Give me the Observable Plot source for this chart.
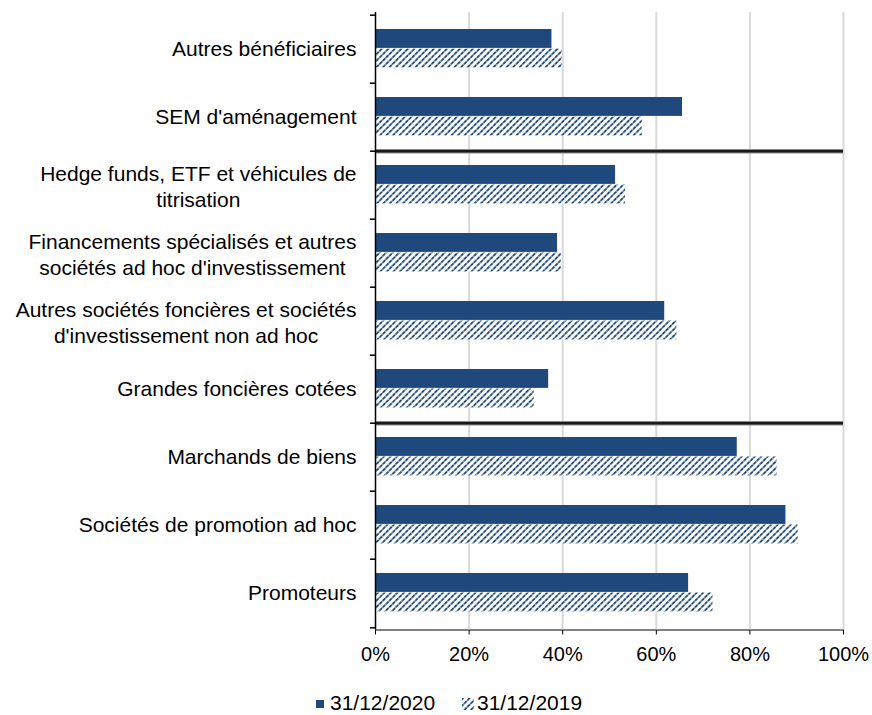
<!DOCTYPE html>
<html>
<head>
<meta charset="utf-8">
<script src="https://cdn.jsdelivr.net/npm/d3@7"></script>
<script src="https://cdn.jsdelivr.net/npm/@observablehq/plot@0.6"></script>
<style>
  html, body { margin: 0; padding: 0; background: #fff; }
  body { width: 872px; height: 715px; position: relative; overflow: hidden; font-family: "Liberation Sans", Arial, sans-serif; }
  #chart svg { display: block; }
  #legend { position: absolute; left: 0; top: 676px; width: 872px; height: 39px; font-size: 21px; color: #000; }
  .item { position: absolute; top: 15px; height: 24px; line-height: 24px; white-space: nowrap; }
  .sw { display: inline-block; vertical-align: middle; }
</style>
</head>
<body>
<svg width="0" height="0" style="position:absolute">
  <defs>
    <pattern id="hatch" width="4.6" height="4.6" patternUnits="userSpaceOnUse" patternTransform="rotate(45)">
      <rect width="4.6" height="4.6" fill="#ffffff"></rect>
      <line x1="0.9" y1="0" x2="0.9" y2="4.6" stroke="#1f497d" stroke-width="1.8" stroke-dasharray="2.6 0.6"></line>
    </pattern>
  </defs>
</svg>
<div id="chart"></div>
<div id="legend">
  <div class="item" style="left:316px"><svg class="sw" width="8" height="8"><rect width="8" height="8" fill="#1f497d"></rect></svg><span style="margin-left:6px">31/12/2020</span></div>
  <div class="item" style="left:462px"><svg class="sw" width="12" height="12"><rect width="12" height="12" fill="url(#hatch)"></rect></svg><span style="margin-left:3px">31/12/2019</span></div>
</div>
<script>
// ---- data ----
const categories = [
  "Autres bénéficiaires",
  "SEM d'aménagement",
  "Hedge funds, ETF et véhicules de titrisation",
  "Financements spécialisés et autres sociétés ad hoc d'investissement",
  "Autres sociétés foncières et sociétés d'investissement non ad hoc",
  "Grandes foncières cotées",
  "Marchands de biens",
  "Sociétés de promotion ad hoc",
  "Promoteurs"
];
const categoryLabels = [
  "Autres bénéficiaires",
  "SEM d'aménagement",
  "Hedge funds, ETF et véhicules de\ntitrisation",
  "Financements spécialisés et autres\nsociétés ad hoc d'investissement",
  "Autres sociétés foncières et sociétés\nd'investissement non ad hoc",
  "Grandes foncières cotées",
  "Marchands de biens",
  "Sociétés de promotion ad hoc",
  "Promoteurs"
];
const values2020 = [37.7, 65.6, 51.3, 38.9, 61.8, 37.0, 77.3, 87.7, 66.9];
const values2019 = [39.9, 57.0, 53.4, 39.7, 64.4, 33.9, 85.8, 90.3, 72.1];
const seriesNames = ["31/12/2020", "31/12/2019"];
const xTicks = [0, 20, 40, 60, 80, 100];
const gridTicks = [20, 40, 60, 80, 100];
const separatorsBefore = ["Hedge funds, ETF et véhicules de titrisation", "Marchands de biens"];

// ---- layout ----
const W = 872, H = 676, mt = 12, mb = 46.5, ml = 375, mr = 29;
const step = (H - mt - mb) / categories.length;
const labelFont = 21, labelGap = 19;

const rows2020 = categories.map((c, i) => ({cat: c, value: values2020[i], series: seriesNames[0]}));
const rows2019 = categories.map((c, i) => ({cat: c, value: values2019[i], series: seriesNames[1]}));
const labelRows = categories.map((c, i) => ({cat: c, label: categoryLabels[i]}));
const tickLen = 5 / ((W - ml - mr) / 100);

// measure label widths so that multi-line labels are centred in a right-aligned block
const ctx = document.createElement("canvas").getContext("2d");
ctx.font = `${labelFont}px 'Liberation Sans', Arial, sans-serif`;
const blockWidth = s => Math.max(...s.split("\n").map(l => ctx.measureText(l).width));

const singleRows = labelRows.filter(r => !r.label.includes("\n"));
const multiRows = labelRows.filter(r => r.label.includes("\n"));

const labelMarks = [
  Plot.text(singleRows, {y: "cat", x: 0, text: "label", textAnchor: "end", dx: -labelGap, fontSize: labelFont, fill: "#000"}),
  ...multiRows.map(r => Plot.text([r], {y: "cat", x: 0, text: "label", textAnchor: "middle",
    dx: -labelGap - blockWidth(r.label) / 2, fontSize: labelFont, lineHeight: 1.27, fill: "#000"}))
];

const chart = Plot.plot({
  width: W, height: H,
  marginTop: mt, marginBottom: mb, marginLeft: ml, marginRight: mr,
  style: {fontFamily: "'Liberation Sans', Arial, sans-serif", fontSize: "20px", color: "#000", background: "#fff", overflow: "visible"},
  x: {domain: [0, 100], ticks: xTicks, tickFormat: d => d + "%", tickSize: 5, tickPadding: 12, line: true, label: null},
  y: {domain: categories, padding: 0, axis: null},
  marks: [
    Plot.ruleX(gridTicks, {stroke: "#d9d9d9", strokeWidth: 2}),
    Plot.barX(rows2020, {y: "cat", x: "value", fill: "#1f497d", insetTop: 14, insetBottom: step - 33.5}),
    Plot.barX(rows2019, {y: "cat", x: "value", fill: "url(#hatch)", insetTop: 33.5, insetBottom: step - 53}),
    Plot.ruleY(separatorsBefore, {y: d => d, dy: -step / 2, x1: 0, x2: 100, stroke: "#8c8c8c", strokeWidth: 4.5}),
    Plot.ruleY(separatorsBefore, {y: d => d, dy: -step / 2, x1: 0, x2: 100, stroke: "#1a1a1a", strokeWidth: 2.4}),
    Plot.ruleX([0], {stroke: "#000", strokeWidth: 1.5}),
    Plot.ruleY(categories, {y: d => d, dy: -step / 2, x1: -tickLen, x2: 0, stroke: "#000", strokeWidth: 1.5}),
    Plot.ruleY(categories.slice(-1), {y: d => d, dy: step / 2, x1: -tickLen, x2: 0, stroke: "#000", strokeWidth: 1.5}),
    ...labelMarks
  ]
});
document.getElementById("chart").appendChild(chart);
</script>
</body>
</html>
